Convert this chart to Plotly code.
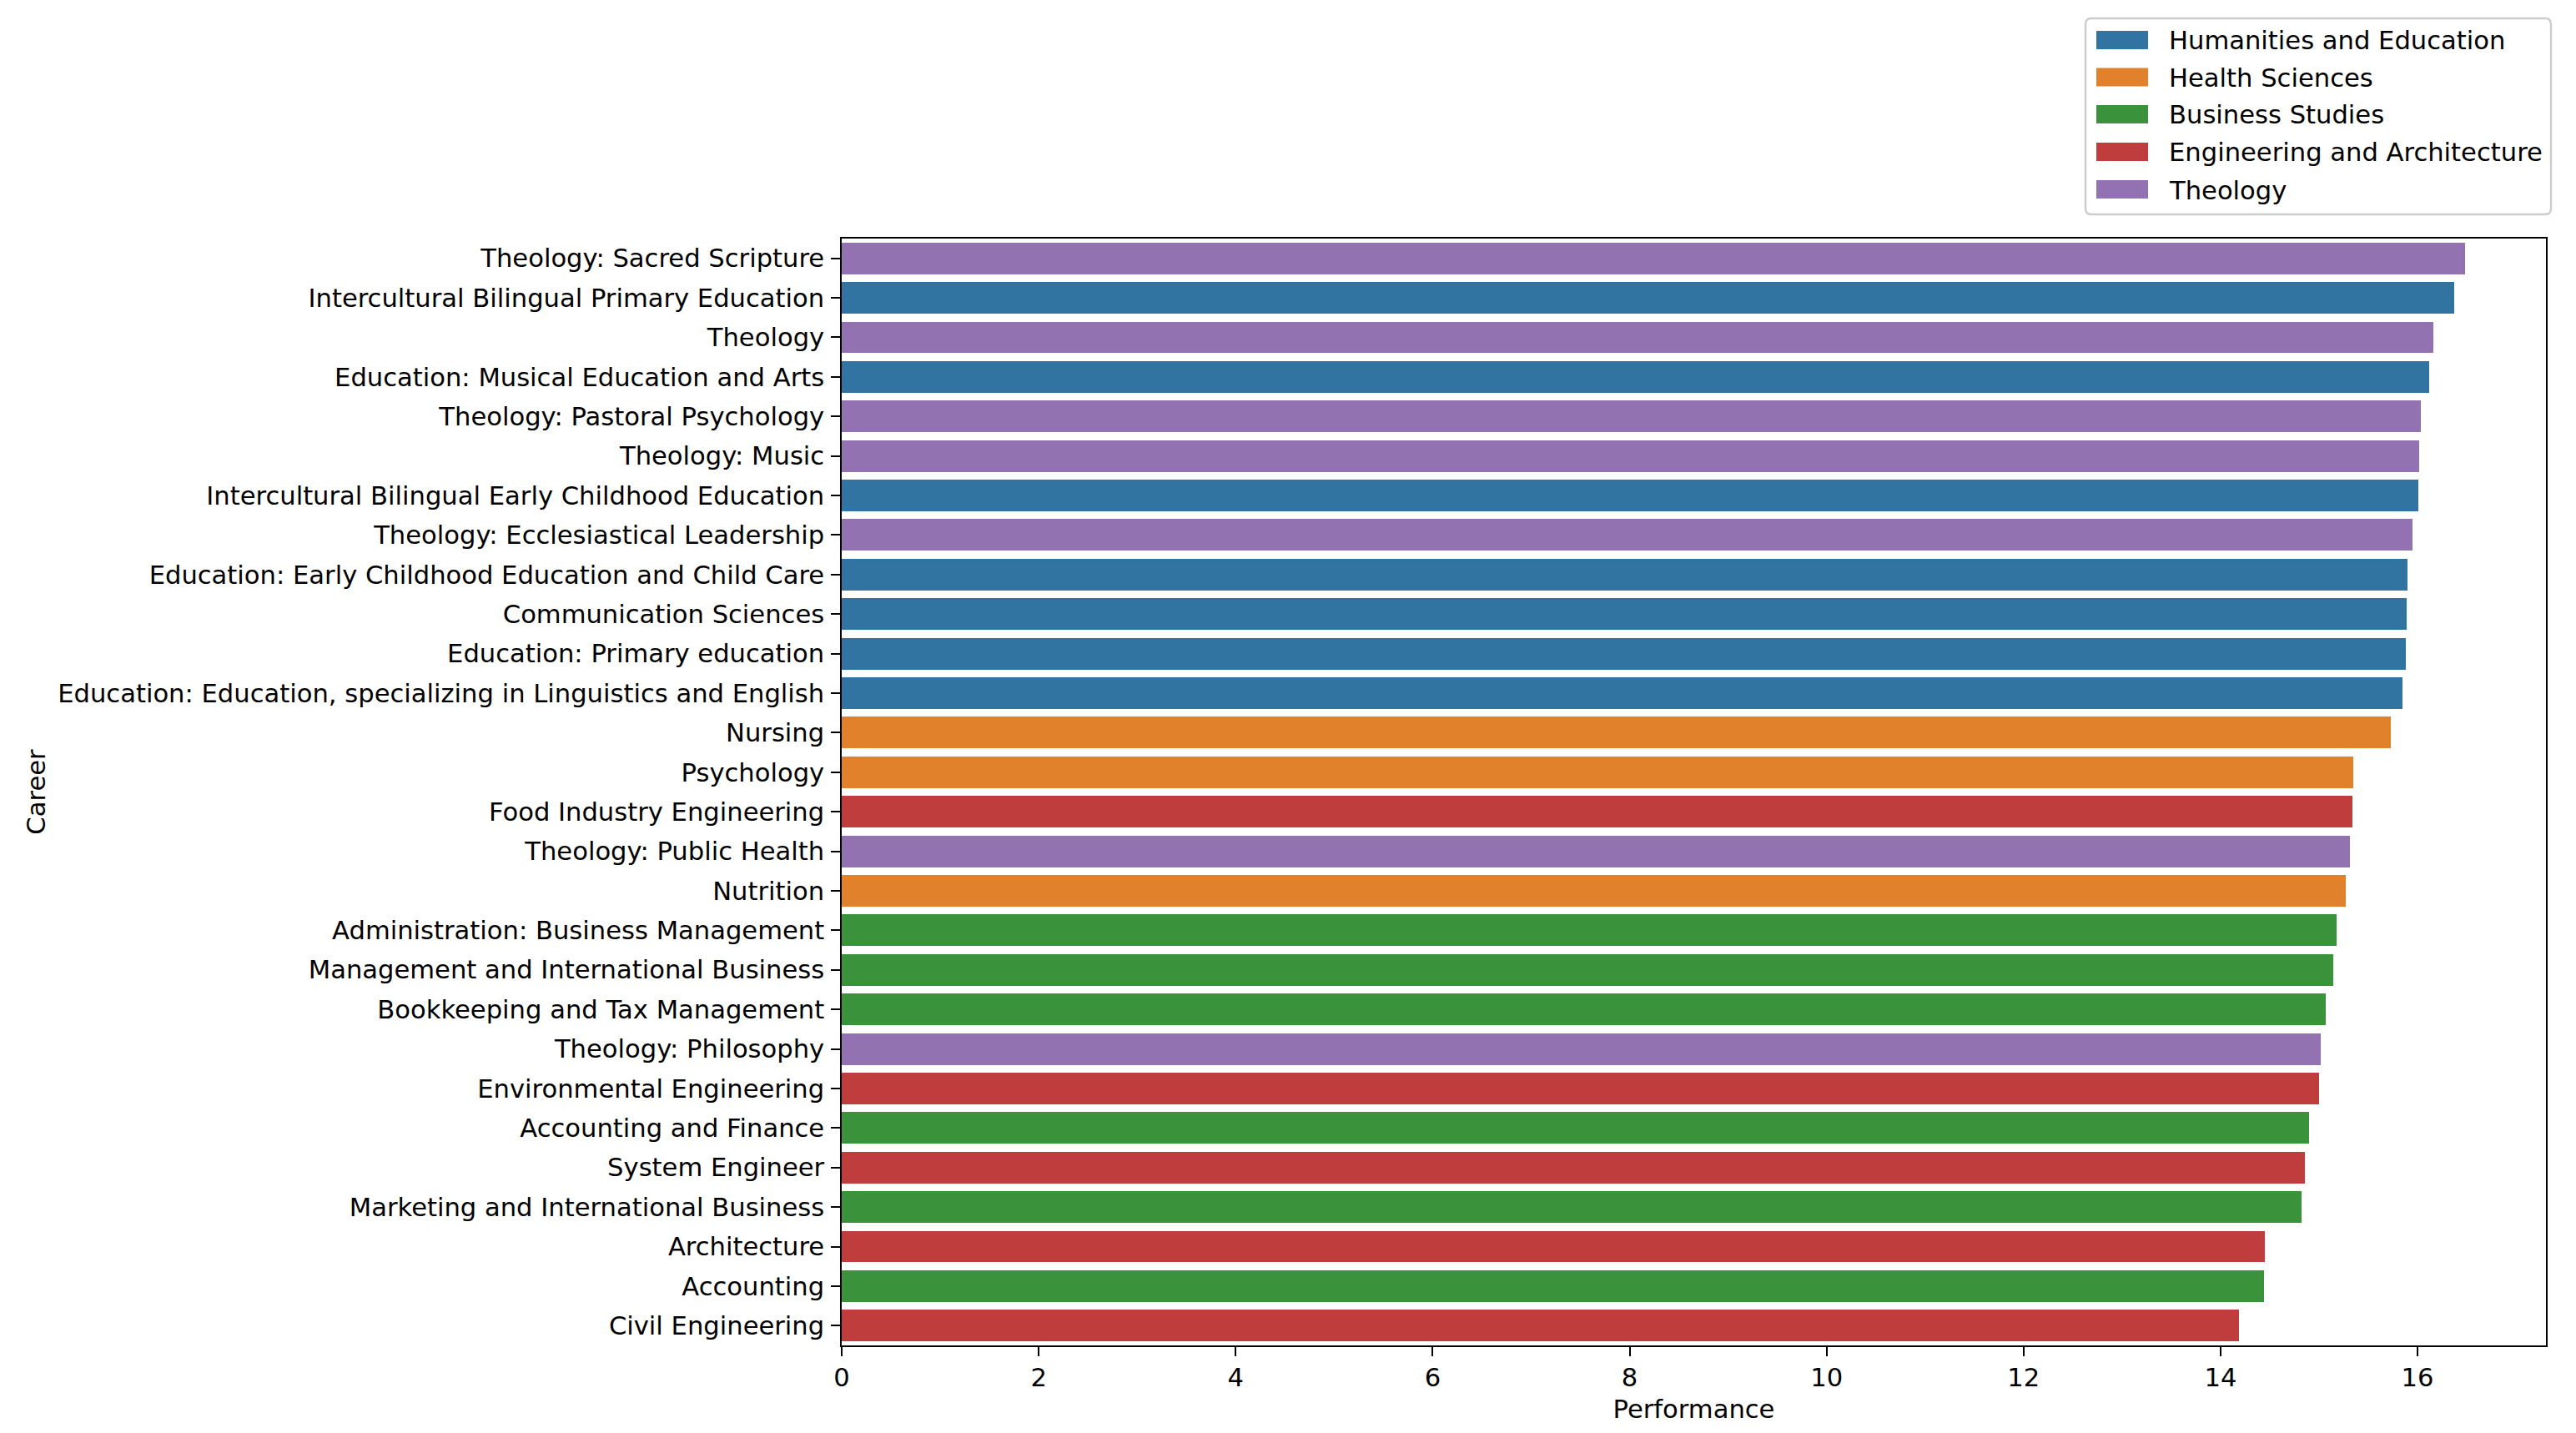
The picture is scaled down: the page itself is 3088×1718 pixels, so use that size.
import plotly.graph_objects as go

# ---------------- data ----------------
careers = [
    "Theology: Sacred Scripture",
    "Intercultural Bilingual Primary Education",
    "Theology",
    "Education: Musical Education and Arts",
    "Theology: Pastoral Psychology",
    "Theology: Music",
    "Intercultural Bilingual Early Childhood Education",
    "Theology: Ecclesiastical Leadership",
    "Education: Early Childhood Education and Child Care",
    "Communication Sciences",
    "Education: Primary education",
    "Education: Education, specializing in Linguistics and English",
    "Nursing",
    "Psychology",
    "Food Industry Engineering",
    "Theology: Public Health",
    "Nutrition",
    "Administration: Business Management",
    "Management and International Business",
    "Bookkeeping and Tax Management",
    "Theology: Philosophy",
    "Environmental Engineering",
    "Accounting and Finance",
    "System Engineer",
    "Marketing and International Business",
    "Architecture",
    "Accounting",
    "Civil Engineering",
]
performance = [
    16.48, 16.37, 16.16, 16.12, 16.03, 16.02, 16.01, 15.95, 15.90, 15.89,
    15.88, 15.85, 15.73, 15.35, 15.34, 15.31, 15.27, 15.18, 15.14, 15.07,
    15.02, 15.00, 14.90, 14.86, 14.82, 14.45, 14.44, 14.19,
]
faculty = [
    "Theology", "Humanities and Education", "Theology", "Humanities and Education",
    "Theology", "Theology", "Humanities and Education", "Theology",
    "Humanities and Education", "Humanities and Education", "Humanities and Education",
    "Humanities and Education", "Health Sciences", "Health Sciences",
    "Engineering and Architecture", "Theology", "Health Sciences", "Business Studies",
    "Business Studies", "Business Studies", "Theology", "Engineering and Architecture",
    "Business Studies", "Engineering and Architecture", "Business Studies",
    "Engineering and Architecture", "Business Studies", "Engineering and Architecture",
]
groups = [
    "Humanities and Education",
    "Health Sciences",
    "Business Studies",
    "Engineering and Architecture",
    "Theology",
]
colors = ["#3274a1", "#e1812c", "#3a923a", "#c03d3e", "#9372b2"]

# ---------------- layout geometry (pixels) ----------------
W, H = 3088, 1718
L, R, T, B = 1009, 3052, 286, 1613
FONT = "DejaVu Sans"
FS = 30.6


def px_x(p):
    return (p - L) / (R - L)


def px_y(p):
    return (B - p) / (B - T)


fig = go.Figure()
for g, c in zip(groups, colors):
    ys = [cr for cr, f in zip(careers, faculty) if f == g]
    xs = [v for v, f in zip(performance, faculty) if f == g]
    fig.add_trace(go.Bar(
        x=xs, y=ys, orientation="h", name=g, width=0.8,
        marker=dict(color=c, line=dict(width=0)), showlegend=False,
    ))

# ---------------- manual legend (matplotlib style) ----------------
shapes = []
annotations = []
bx0, bx1, by0, by1, rad = 2500, 3058, 22, 257, 7
rx = rad / (R - L)
ry = rad / (B - T)
X0, X1, Y0, Y1 = px_x(bx0), px_x(bx1), px_y(by0), px_y(by1)
path = (f"M {X0+rx},{Y0} L {X1-rx},{Y0} Q {X1},{Y0} {X1},{Y0-ry} "
        f"L {X1},{Y1+ry} Q {X1},{Y1} {X1-rx},{Y1} L {X0+rx},{Y1} "
        f"Q {X0},{Y1} {X0},{Y1+ry} L {X0},{Y0-ry} Q {X0},{Y0} {X0+rx},{Y0} Z")
shapes.append(dict(type="path", path=path, xref="paper", yref="paper",
                   fillcolor="rgba(255,255,255,0.8)",
                   line=dict(color="#cccccc", width=2.4), layer="above"))
row_y = [48, 92.5, 137, 182, 227]
for g, c, cy in zip(groups, colors, row_y):
    shapes.append(dict(type="rect", xref="paper", yref="paper",
                       x0=px_x(2513), x1=px_x(2575),
                       y0=px_y(cy - 11), y1=px_y(cy + 11),
                       fillcolor=c, line=dict(width=0), layer="above"))
    annotations.append(dict(text=g, xref="paper", yref="paper",
                            x=px_x(2598), y=px_y(cy + 1),
                            xanchor="left", yanchor="middle", showarrow=False,
                            font=dict(family=FONT, size=FS, color="black")))

fig.update_layout(
    width=W, height=H,
    margin=dict(l=L, r=W - R, t=T, b=H - B, pad=0),
    paper_bgcolor="white", plot_bgcolor="white",
    barmode="overlay", bargap=0,
    font=dict(family=FONT, size=FS, color="black"),
    shapes=shapes, annotations=annotations,
    showlegend=False,
)
fig.update_xaxes(
    range=[0, max(performance) * 1.05], dtick=2, tick0=0,
    showgrid=False, zeroline=False,
    showline=True, linecolor="black", linewidth=2.4, mirror=True,
    ticks="outside", ticklen=10.5, tickwidth=2.4, tickcolor="black",
    tickfont=dict(family=FONT, size=FS, color="black"),
    title=dict(text="Performance", font=dict(family=FONT, size=FS, color="black"), standoff=10),
)
fig.update_yaxes(
    type="category", categoryorder="array", categoryarray=careers,
    autorange="reversed",
    showgrid=False, zeroline=False,
    showline=True, linecolor="black", linewidth=2.4, mirror=True,
    ticks="outside", ticklen=10.5, tickwidth=2.4, tickcolor="black",
    ticklabelstandoff=2,
    tickfont=dict(family=FONT, size=FS, color="black"),
    title=dict(text="Career", font=dict(family=FONT, size=FS, color="black"), standoff=5),
)

fig.write_html(
    "out.html",
    config={"displayModeBar": False},
    post_script="document.body.style.margin='0';document.body.style.padding='0';",
)
